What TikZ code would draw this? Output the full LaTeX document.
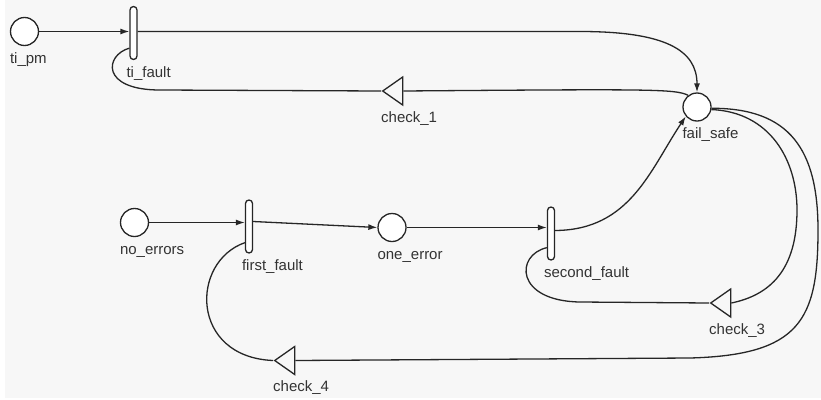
\documentclass[tikz,border=0pt]{standalone}
\usepackage{fontspec}
\setmainfont{Liberation Sans}
\usetikzlibrary{arrows.meta,shapes.geometric}

\tikzset{
  place/.style={circle, draw=black!85, fill=white, line width=1.3pt, minimum size=28pt, inner sep=0pt},
  trans/.style={rectangle, rounded corners=3.5pt, draw=black!85, fill=white, line width=1.3pt, minimum width=7pt, minimum height=53pt, inner sep=0pt},
  check/.style={isosceles triangle, shape border rotate=180, isosceles triangle stretches, draw=black!85, line width=1.3pt, minimum width=28pt, minimum height=20pt, inner sep=0pt},
  lbl/.style={anchor=base west, inner sep=0pt, text=black!80, font=\fontsize{15}{18}\selectfont, yshift=-17pt},
  link/.style={draw=black!85, line width=1.3pt},
  flow/.style={link, -{Latex[length=9pt,width=6pt]}}
}

\begin{document}
\begin{tikzpicture}[x=1pt,y=-1pt]
\useasboundingbox (0,0) rectangle (821,399);
\fill[black!3] (5,0) rectangle (821,398);

% places, transitions and checks
\node[place] (ti_pm) at (24.5,31.5) {};
\node[trans] (ti_fault) at (133.5,33) {};
\node[place] (fail_safe) at (697,107) {};
\node[check, anchor=west] (check_1) at (381,91) {};
\node[place] (no_errors) at (134.5,222.5) {};
\node[trans] (first_fault) at (249,226.5) {};
\node[place] (one_error) at (392,227.5) {};
\node[trans] (second_fault) at (551,233.5) {};
\node[check, anchor=west] (check_3) at (709,303) {};
\node[check, anchor=west] (check_4) at (273,360.5) {};

% names under the nodes
\node[lbl] (ti_pm_name) at (ti_pm.west |- ti_pm.south) {ti\_pm};
\node[lbl, xshift=-3pt] (ti_fault_name) at (ti_fault.south west) {ti\_fault};
\node[lbl] (fail_safe_name) at (fail_safe.west |- fail_safe.south) {fail\_safe};
\node[lbl] (check_1_name) at ([yshift=-14pt]check_1.west) {check\_1};
\node[lbl] (no_errors_name) at (no_errors.west |- no_errors.south) {no\_errors};
\node[lbl, xshift=-3pt] (first_fault_name) at (first_fault.south west) {first\_fault};
\node[lbl] (one_error_name) at (one_error.west |- one_error.south) {one\_error};
\node[lbl, xshift=-3pt] (second_fault_name) at (second_fault.south west) {second\_fault};
\node[lbl] (check_3_name) at ([yshift=-14pt]check_3.west) {check\_3};
\node[lbl] (check_4_name) at ([yshift=-14pt]check_4.west) {check\_4};

% arcs
\draw[flow] (ti_pm) -- (ti_pm -| ti_fault.west);
\draw[flow] (ti_pm -| ti_fault.east) -- (580,31.5) .. controls (665,31.5) and (697,50) .. (fail_safe.north);
\draw[link] (fail_safe.127) .. controls (675,89) and (655,89) .. (check_1.east);
\draw[link] (check_1.west) -- (160,90) .. controls (100,90) and (105,55) .. ([yshift=12pt]ti_fault.south west);
\draw[flow] (no_errors) -- (no_errors -| first_fault.west);
\draw[flow] ([yshift=5pt]first_fault.east) -- (one_error.west);
\draw[flow] (one_error) -- (one_error -| second_fault.west);
\draw[flow] ([yshift=3pt]second_fault.east) .. controls (630,230) and (650,170) .. (fail_safe.220);
\draw[link] (fail_safe.-10) .. controls (770,112) and (797,160) .. (797,210) .. controls (797,270) and (770,295) .. (check_3.east);
\draw[link] (fail_safe.-5) .. controls (790,108) and (818,150) .. (818,230) .. controls (818,320) and (800,355) .. (690,358) -- (check_4.east);
\draw[link] (check_3.west) -- (580,302) .. controls (515,301) and (515,255) .. ([yshift=13pt]second_fault.south west);
\draw[link] (check_4.west) .. controls (190,357) and (190,262) .. ([yshift=11pt]first_fault.south west);
\end{tikzpicture}
\end{document}
